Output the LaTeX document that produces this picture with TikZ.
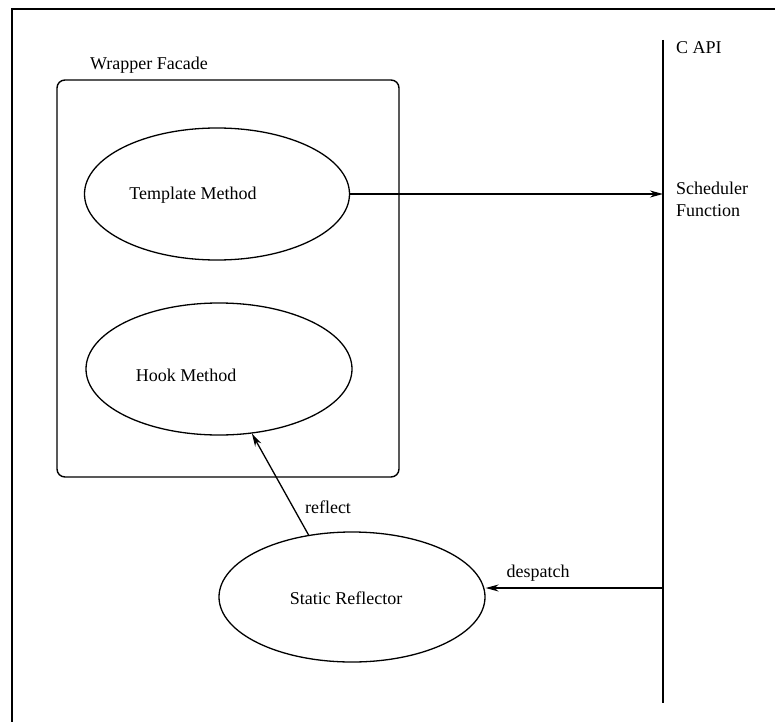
\documentclass[tikz,border=0pt]{standalone}
\usepackage{fontspec}
\setmainfont{Liberation Serif}
\usetikzlibrary{shapes.geometric,arrows.meta}

\tikzset{
  txt/.style={font=\fontsize{18}{22}\selectfont, inner sep=0pt},
  oval/.style={draw, ellipse, line width=1.3pt, inner sep=0pt},
  conn/.style={line width=1.3pt, -{Stealth[length=13pt,width=7pt]}},
  rule/.style={line width=1.4pt}
}

\begin{document}
\begin{tikzpicture}[x=1pt,y=-1pt]
  \useasboundingbox (0,0) rectangle (775,722);

  % outer frame (top and left edges only)
  \coordinate (frameTL) at (12,9);
  \coordinate (frameTR) at (775,9);
  \coordinate (frameBL) at (12,722);
  \draw[rule] (frameTR) -- (frameTL) -- (frameBL);

  % wrapper facade container
  \node[draw, rule, rounded corners=8pt, minimum width=342pt, minimum height=397pt, inner sep=0pt]
    (wf) at (228,278.5) {};
  \node[txt, anchor=base west] (wflabel) at (90,70) {Wrapper Facade};

  % methods inside the facade
  \node[oval, minimum width=265pt, minimum height=132pt,
        label={[txt, xshift=-24pt, yshift=-1pt]center:Template Method}]
    (tm) at (217,194) {};
  \node[oval, minimum width=266pt, minimum height=132pt,
        label={[txt, xshift=-33pt, yshift=-6pt]center:Hook Method}]
    (hm) at (219,369) {};

  % static reflector
  \node[oval, minimum width=266pt, minimum height=130pt,
        label={[txt, xshift=-6pt, yshift=-1pt]center:Static Reflector}]
    (sr) at (352,597) {};

  % C API boundary
  \coordinate (apitop) at (663,40);
  \coordinate (apibot) at (663,703);
  \draw[rule] (apitop) -- (apibot);
  \node[txt, anchor=base west] (capi) at (676,54) {C API};
  \node[txt, anchor=north west, align=left] (sched) at (676,181.5) {Scheduler\\Function};

  % connectors
  \draw[conn] (tm.east) -- (tm.east -| apitop);
  \coordinate (dsp) at (663,588);
  \draw[conn] (dsp) -- (dsp -| sr.east);
  \node[txt] (dsplabel) at (538,573) {despatch};
  \draw[conn] (sr.125) -- (hm.-63);
  \node[txt] (reflabel) at (328,507) {reflect};
\end{tikzpicture}
\end{document}
